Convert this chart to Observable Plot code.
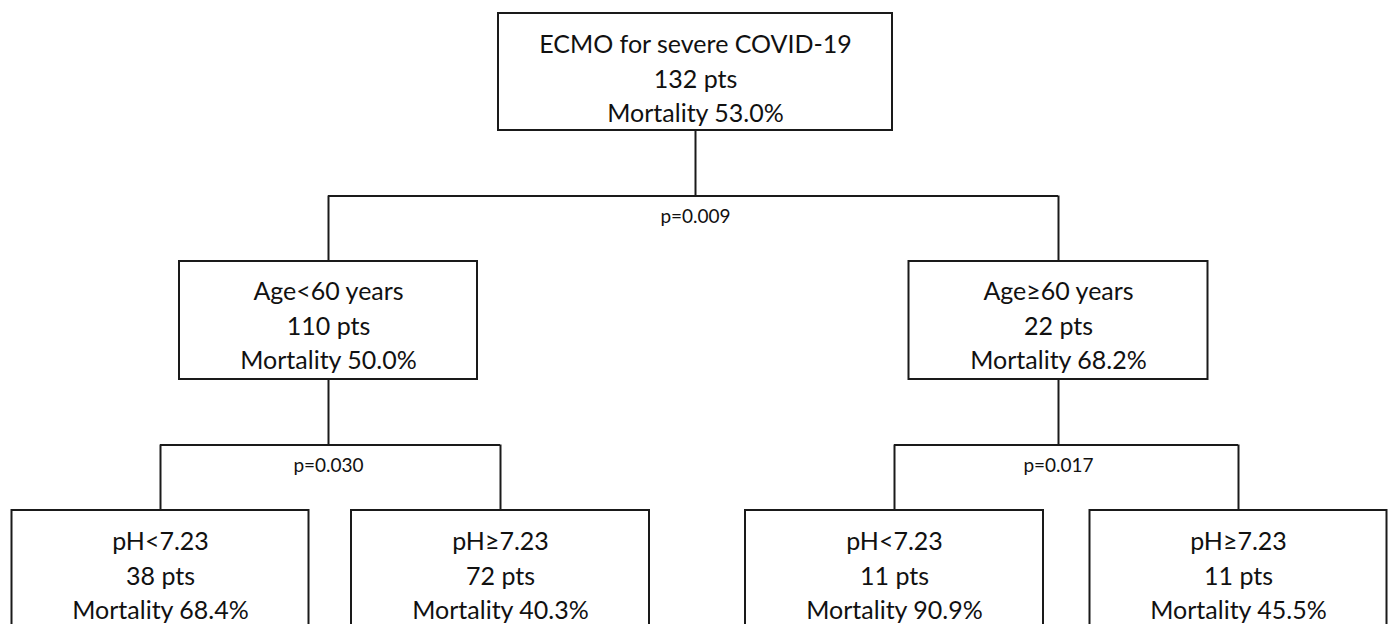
<!DOCTYPE html>
<html>
<head>
<meta charset="utf-8">
<script src="https://cdn.jsdelivr.net/npm/d3@7"></script>
<script src="https://cdn.jsdelivr.net/npm/@observablehq/plot@0.6"></script>
<style>
  html, body { margin: 0; padding: 0; background: #fff; overflow: hidden; }
  #chart svg { display: block; }
</style>
</head>
<body>
<div id="chart"></div>
<script>
// ---- Data ----
const nodeLabels = ["ECMO for severe COVID-19", "Age<60 years", "Age≥60 years", "pH<7.23", "pH≥7.23", "pH<7.23", "pH≥7.23"];
const nodePts = [132, 110, 22, 38, 72, 11, 11];
const nodeMortality = ["53.0", "50.0", "68.2", "68.4", "40.3", "90.9", "45.5"];
const nodeParent = [null, 0, 0, 1, 1, 2, 2];
const splitNode = [0, 1, 2];
const splitP = ["0.009", "0.030", "0.017"];

// ---- Layout (diagram space, pixels of the 1391x624 canvas) ----
const W = 1391, H = 624;
const nodeCenter = [695, 328, 1058, 160, 500, 894, 1238];
const nodeWidth = [394, 298, 299, 297, 298, 298, 297];
const levelTop = [13, 261, 510];
const boxHeight = [117, 118, 140];
const textOffset = [33, 32, 33];
const pOffset = 27;
const fs = 25;

const depth = nodeParent.map((p, i) => { let d = 0, q = p; while (q != null) { d++; q = nodeParent[q]; } return d; });

const nodes = nodeLabels.map((label, i) => ({
  i,
  x1: nodeCenter[i] - nodeWidth[i] / 2,
  x2: nodeCenter[i] + nodeWidth[i] / 2,
  y1: levelTop[depth[i]],
  y2: levelTop[depth[i]] + boxHeight[depth[i]],
  cx: nodeCenter[i],
  ty: levelTop[depth[i]] + textOffset[depth[i]] - 0.71 * fs,
  text: `${label}\n${nodePts[i]} pts\nMortality ${nodeMortality[i]}%`
}));

// connectors
const hRules = [], vRules = [], pLabels = [];
splitNode.forEach((s, k) => {
  const kids = nodes.filter(n => nodeParent[n.i] === s);
  const parent = nodes[s];
  const childTop = kids[0].y1;
  const ym = (parent.y2 + childTop) / 2;
  vRules.push({x: parent.cx, y1: parent.y2, y2: ym});
  hRules.push({x1: d3.min(kids, d => d.cx), x2: d3.max(kids, d => d.cx), y: ym});
  kids.forEach(c => vRules.push({x: c.cx, y1: ym, y2: c.y1}));
  pLabels.push({x: parent.cx, y: ym + pOffset, text: `p=${splitP[k]}`});
});

const stroke = "#1a1a1a";
const plot = Plot.plot({
  width: W,
  height: H,
  margin: 0,
  x: {type: "linear", domain: [0, W], range: [0, W], axis: null},
  y: {type: "linear", domain: [0, H], range: [0, H], axis: null},
  style: {fontFamily: "Lato, 'Open Sans', sans-serif", background: "#fff"},
  marks: [
    Plot.ruleX(vRules, {x: "x", y1: "y1", y2: "y2", stroke, strokeWidth: 2}),
    Plot.ruleY(hRules, {y: "y", x1: "x1", x2: "x2", stroke, strokeWidth: 2}),
    Plot.rect(nodes, {x1: "x1", x2: "x2", y1: "y1", y2: "y2", fill: "#fff", stroke, strokeWidth: 2}),
    Plot.text(nodes, {x: "cx", y: "ty", text: "text", lineAnchor: "top", lineHeight: 34.5 / fs, fontSize: fs, fill: "#111", textAnchor: "middle"}),
    Plot.text(pLabels, {x: "x", y: "y", text: "text", lineAnchor: "bottom", fontSize: 19, fill: "#111", textAnchor: "middle"})
  ]
});
document.getElementById("chart").appendChild(plot);
</script>
</body>
</html>
